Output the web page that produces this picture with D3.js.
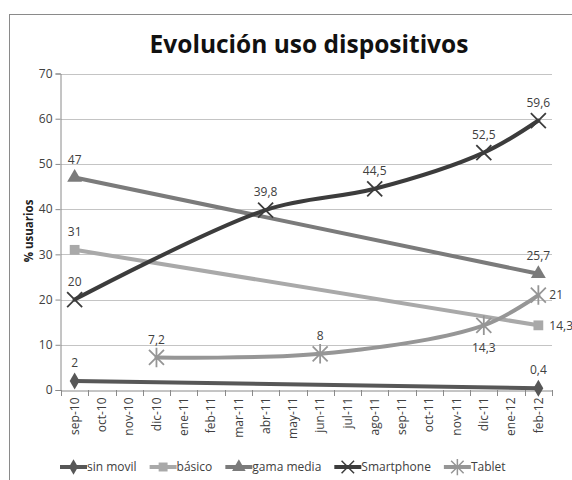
<!DOCTYPE html>
<html>
<head>
<meta charset="utf-8">
<script src="https://cdn.jsdelivr.net/npm/d3@7"></script>
<style>
  body { margin: 0; background: #fff; }
  svg { font-family: "Open Sans", sans-serif; }
</style>
</head>
<body>
<svg width="572" height="480"></svg>
<script>
const months = ["sep-10","oct-10","nov-10","dic-10","ene-11","feb-11","mar-11","abr-11","may-11",
  "jun-11","jul-11","ago-11","sep-11","oct-11","nov-11","dic-11","ene-12","feb-12"]
const yTicks = [0, 10, 20, 30, 40, 50, 60, 70]

// values by month, null where there is no survey point
const sinMovil   = [2, null, null, null, null, null, null, null, null, null, null, null, null, null, null, null, null, 0.4]
const basico     = [31, null, null, null, null, null, null, null, null, null, null, null, null, null, null, null, null, 14.3]
const gamaMedia  = [47, null, null, null, null, null, null, null, null, null, null, null, null, null, null, null, null, 25.7]
const smartphone = [20, null, null, null, null, null, null, 39.8, null, null, null, 44.5, null, null, null, 52.5, null, 59.6]
const tablet     = [null, null, null, 7.2, null, null, null, null, null, 8, null, null, null, null, null, 14.3, null, 21]

const seriesNames = ["sin movil", "básico", "gama media", "Smartphone", "Tablet"]

const series = [
  { name: seriesNames[0], values: sinMovil,   color: "#575757", marker: "diamond" },
  { name: seriesNames[1], values: basico,     color: "#a9a9a9", marker: "square" },
  { name: seriesNames[2], values: gamaMedia,  color: "#7b7b7b", marker: "triangle" },
  { name: seriesNames[3], values: smartphone, color: "#3c3c3c", marker: "x" },
  { name: seriesNames[4], values: tablet,     color: "#969696", marker: "star" }
]

// label placement tweaks (series + month)
const labelPos = {
  "Tablet|dic-11": "below",
  "Tablet|feb-12": "right",
  "básico|feb-12": "right"
}

const svg = d3.select("svg")
const x = d3.scaleBand().domain(months).range([61, 552])
const y = d3.scaleLinear().domain([0, 70]).range([390, 73.5])

// outer chart border
svg.append("rect")
  .attr("x", 9.5).attr("y", 14.5)
  .attr("width", 600).attr("height", 500)
  .attr("fill", "none").attr("stroke", "#8a8a8a")

svg.append("text")
  .attr("x", 309).attr("y", 53)
  .attr("text-anchor", "middle")
  .attr("font-size", 24.5).attr("font-weight", "bold")
  .attr("fill", "#111")
  .text("Evolución uso dispositivos")

// gridlines
svg.append("g")
  .selectAll("line")
  .data(yTicks.filter(d => d > 0))
  .join("line")
  .attr("x1", 61).attr("x2", 552)
  .attr("y1", d => Math.round(y(d)) + 0.5).attr("y2", d => Math.round(y(d)) + 0.5)
  .attr("stroke", "#c4c4c4")

// y axis
const yAxis = svg.append("g")
  .attr("transform", "translate(60.5,0)")
  .call(d3.axisLeft(y).tickValues(yTicks).tickSize(5).tickPadding(3))
yAxis.select(".domain").attr("stroke", "#8a8a8a")
yAxis.selectAll(".tick line").attr("stroke", "#8a8a8a")
yAxis.selectAll("text").attr("font-size", 12).attr("fill", "#404040")
  .attr("font-family", "Open Sans")

// x axis
const xAxis = svg.append("g")
  .attr("transform", "translate(0,390.5)")
  .call(d3.axisBottom(x).tickSize(0).tickSizeOuter(0))
xAxis.select(".domain").attr("stroke", "#8a8a8a")
xAxis.selectAll(".tick line").remove()
xAxis.selectAll("text")
  .attr("font-size", 12).attr("fill", "#404040").attr("font-family", "Open Sans")
  .attr("transform", "rotate(-90)")
  .attr("text-anchor", "end")
  .attr("x", -7).attr("y", 0).attr("dy", "0.35em")
// tick marks between categories
svg.append("g")
  .selectAll("line")
  .data(months.concat(["end"]))
  .join("line")
  .attr("x1", (d, i) => Math.round(61 + i * x.step()) + 0.5)
  .attr("x2", (d, i) => Math.round(61 + i * x.step()) + 0.5)
  .attr("y1", 390).attr("y2", 396)
  .attr("stroke", "#8a8a8a")

svg.append("text")
  .attr("transform", "translate(33,231) rotate(-90)")
  .attr("text-anchor", "middle")
  .attr("font-size", 11.5).attr("font-weight", "bold").attr("fill", "#222")
  .text("% usuarios")

function markerPath(type, s) {
  if (type === "diamond") return d3.symbol(d3.symbolDiamond, s * 7)()
  if (type === "square") return d3.symbol(d3.symbolSquare, s * 8)()
  if (type === "triangle") return d3.symbol(d3.symbolTriangle, s * 8)()
  const r = s / 1.6
  if (type === "x") return `M${-r},${-r}L${r},${r}M${-r},${r}L${r},${-r}`
  return `M${-r},${-r}L${r},${r}M${-r},${r}L${r},${-r}M0,${-r * 1.3}L0,${r * 1.3}`
}

const line = d3.line()
  .x(d => x(d.m) + x.bandwidth() / 2)
  .y(d => y(d.v))
  .curve(d3.curveCatmullRom.alpha(0.5))

series.forEach(s => {
  const pts = s.values.map((v, i) => ({ m: months[i], v })).filter(d => d.v !== null)
  svg.append("path")
    .datum(pts)
    .attr("d", line)
    .attr("fill", "none")
    .attr("stroke", s.color)
    .attr("stroke-width", 4)
    .attr("stroke-linecap", "round")

  const g = svg.append("g")
  g.selectAll("path")
    .data(pts)
    .join("path")
    .attr("transform", d => `translate(${x(d.m) + x.bandwidth() / 2},${y(d.v)})`)
    .attr("d", markerPath(s.marker, 12))
    .attr("fill", (s.marker === "x" || s.marker === "star") ? "none" : s.color)
    .attr("stroke", s.color)
    .attr("stroke-width", (s.marker === "x" || s.marker === "star") ? 1.8 : 0)

  g.selectAll("text")
    .data(pts)
    .join("text")
    .each(function (d) {
      const pos = labelPos[s.name + "|" + d.m] || "above"
      const cx = x(d.m) + x.bandwidth() / 2, cy = y(d.v)
      const t = d3.select(this)
      if (pos === "right") t.attr("x", cx + 11).attr("y", cy).attr("dy", "0.35em").attr("text-anchor", "start")
      else if (pos === "below") t.attr("x", cx).attr("y", cy + 22).attr("dy", "0.35em").attr("text-anchor", "middle")
      else t.attr("x", cx).attr("y", cy - 18).attr("dy", "0.35em").attr("text-anchor", "middle")
    })
    .attr("font-size", 12).attr("fill", "#404040")
    .text(d => String(d.v).replace(".", ","))
})

// legend
const legend = svg.append("g").attr("transform", "translate(60,467)")
let lx = 0
series.forEach(s => {
  const it = legend.append("g").attr("transform", `translate(${lx},0)`)
  it.append("line").attr("x1", 0).attr("x2", 27).attr("stroke", s.color).attr("stroke-width", 4)
  it.append("path")
    .attr("transform", "translate(13.5,0)")
    .attr("d", markerPath(s.marker, 10))
    .attr("fill", (s.marker === "x" || s.marker === "star") ? "none" : s.color)
    .attr("stroke", s.color)
    .attr("stroke-width", (s.marker === "x" || s.marker === "star") ? 1.5 : 0)
  const t = it.append("text").attr("x", 27).attr("dy", "0.35em")
    .attr("font-size", 12).attr("fill", "#404040").text(s.name)
  lx += 27 + t.node().getComputedTextLength() + 13
})
</script>
</body>
</html>
